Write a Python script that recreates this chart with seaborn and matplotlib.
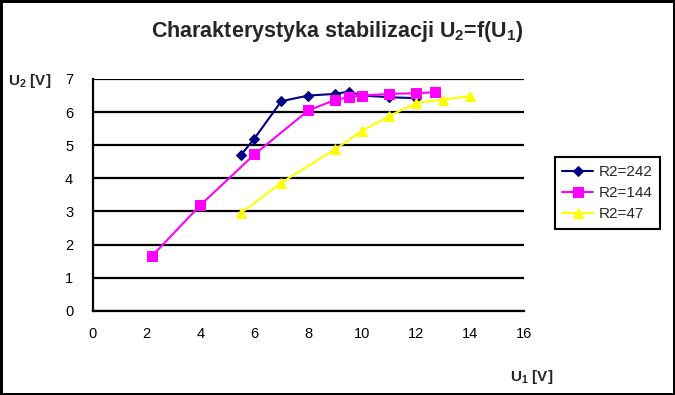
import seaborn as sns
import matplotlib.pyplot as plt
import pandas as pd

# dane pomiarowe
u1_242 = [5.5, 6, 7, 8, 9, 9.5, 10, 11, 12]
u2_242 = [4.7, 5.2, 6.33, 6.5, 6.55, 6.62, 6.5, 6.45, 6.42]
u1_144 = [2.2, 4, 6, 8, 9, 9.5, 10, 11, 12, 12.7]
u2_144 = [1.65, 3.19, 4.72, 6.05, 6.37, 6.45, 6.5, 6.55, 6.57, 6.6]
u1_47 = [5.5, 7, 9, 10, 11, 12, 13, 14]
u2_47 = [2.95, 3.87, 4.88, 5.44, 5.88, 6.28, 6.38, 6.48]
labels = ["R2=242", "R2=144", "R2=47"]
x_ticks = list(range(0, 17, 2))
y_ticks = list(range(0, 8))

sns.set_style("white")
plt.rcParams['font.family'] = ['Liberation Sans', 'DejaVu Sans']
plt.rcParams['mathtext.fontset'] = 'custom'
plt.rcParams['mathtext.rm'] = 'Liberation Sans'
plt.rcParams['mathtext.bf'] = 'Liberation Sans:bold'

fig = plt.figure(figsize=(6.75, 3.95), dpi=100, linewidth=2.5, edgecolor='black')
ax = fig.add_axes([92.6 / 675, 1 - 310.7 / 395, (524 - 92.6) / 675, (310.7 - 79) / 395])

series = [
    (u1_242, u2_242, '#000080', 'D', 5),
    (u1_144, u2_144, '#FF00FF', 's', 7),
    (u1_47, u2_47, '#FFFF00', '^', 7),
]
for (xs, ys, col, mk, ms), lab in zip(series, labels):
    df = pd.DataFrame({'U1': xs, 'U2': ys})
    sns.lineplot(data=df, x='U1', y='U2', ax=ax, color=col, marker=mk,
                 markersize=ms, markeredgecolor=col, linewidth=1.5, label=lab)

ax.set_xlim(0, 16)
ax.set_ylim(0, 7)
ax.set_xticks(x_ticks)
ax.set_yticks(y_ticks)
ax.set_xlabel('')
ax.set_ylabel('')
ax.yaxis.grid(True, color='black', linewidth=1.6)
ax.set_axisbelow(True)
for s in ['top', 'right']:
    ax.spines[s].set_visible(False)
for s in ['left', 'bottom']:
    ax.spines[s].set_color('black')
    ax.spines[s].set_linewidth(1.6)
ax.tick_params(axis='both', direction='out', length=4, width=1.5, color='black',
               labelsize=10.5, labelcolor='black', pad=8)
ax.tick_params(axis='y', pad=10)

fig.text(0.5, 1 - 31 / 395, r'Charakterystyka stabilizacji U$_\mathbf{2}$=f(U$_\mathbf{1}$)',
         ha='center', va='center', fontsize=15.5, fontweight='bold')
fig.text(8 / 675, 1 - 81 / 395, r'U$_\mathbf{2}$ [V]', ha='left', va='center',
         fontsize=11, fontweight='bold')
fig.text(510 / 675, 1 - 377.5 / 395, r'U$_\mathbf{1}$ [V]', ha='left', va='center',
         fontsize=11, fontweight='bold')

ax.legend(loc='center left', bbox_to_anchor=(547 / 675, 1 - 193 / 395),
          bbox_transform=fig.transFigure, frameon=True, fancybox=False,
          edgecolor='black', fontsize=11, handlelength=2.0, handletextpad=0.4,
          borderpad=0.5, labelspacing=0.45, framealpha=1)
ax.get_legend().get_frame().set_linewidth(1.5)

fig.savefig('out.png', dpi=100)
